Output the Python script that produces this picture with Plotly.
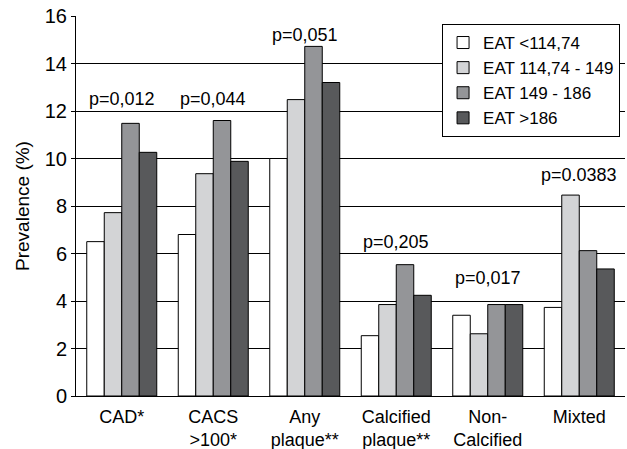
import plotly.graph_objects as go

categories = ["CAD*", "CACS<br>>100*", "Any<br>plaque**", "Calcified<br>plaque**", "Non-<br>Calcified", "Mixted"]
series_names = ["EAT <114,74", "EAT 114,74 - 149", "EAT 149 - 186", "EAT >186"]
eat_low = [6.5, 6.8, 10.0, 2.54, 3.4, 3.73]
eat_mid1 = [7.72, 9.36, 12.48, 3.85, 2.62, 8.46]
eat_mid2 = [11.48, 11.6, 14.72, 5.53, 3.85, 6.12]
eat_high = [10.26, 9.88, 13.2, 4.24, 3.85, 5.35]
p_labels = ["p=0,012", "p=0,044", "p=0,051", "p=0,205", "p=0,017", "p=0.0383"]
p_label_y = [12.5, 12.5, 15.2, 6.5, 4.95, 9.3]

colors = ["#ffffff", "#d3d4d6", "#949598", "#58595b"]
font = "Liberation Sans, Arial, sans-serif"

fig = go.Figure()
for name, vals, col in zip(series_names, [eat_low, eat_mid1, eat_mid2, eat_high], colors):
    fig.add_trace(go.Bar(x=categories, y=vals, name=name, marker=dict(color=col, line=dict(color="#000", width=1))))

for cat, txt, yy in zip(categories, p_labels, p_label_y):
    fig.add_annotation(x=cat, y=yy, text=txt, showarrow=False, font=dict(size=18, color="#000", family=font))

fig.update_layout(
    width=627, height=449,
    margin=dict(l=76, r=2, t=16, b=53),
    paper_bgcolor="white", plot_bgcolor="white",
    barmode="group", bargap=0.235, bargroupgap=0,
    font=dict(family=font, size=18, color="#000"),
    showlegend=True,
    legend=dict(x=0.991, y=0.979, xanchor="right", yanchor="top", bgcolor="white",
                bordercolor="#000", borderwidth=1, font=dict(size=17), tracegroupgap=0,
                itemwidth=30),
    xaxis=dict(showline=True, linecolor="#000", linewidth=1, ticks="", showgrid=False,
               tickfont=dict(size=18), automargin=False, ticklabelstandoff=4),
    yaxis=dict(range=[0, 16], dtick=2, showline=True, linecolor="#000", linewidth=1,
               showgrid=True, gridcolor="#000", gridwidth=1, ticks="outside", ticklen=4,
               tickcolor="#000", tickfont=dict(size=20), zeroline=False, automargin=False,
               title=dict(text="Prevalence (%)", font=dict(size=19), standoff=10)),
)
fig.write_html("out.html", config={"displayModeBar": False},
               post_script="document.body.style.margin='0';document.body.style.overflow='hidden';")
